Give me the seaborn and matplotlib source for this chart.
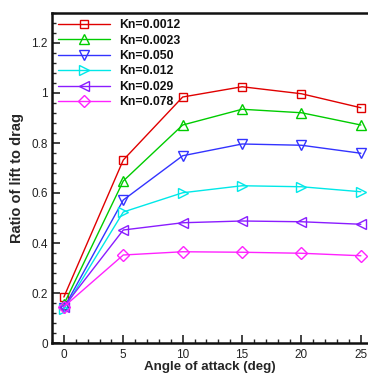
import matplotlib
matplotlib.use("Agg")
import matplotlib.pyplot as plt
import seaborn as sns
import pandas as pd
from matplotlib.ticker import MultipleLocator, FuncFormatter
from matplotlib.lines import Line2D

angles = [0, 5, 10, 15, 20, 25]
labels = ["Kn=0.0012", "Kn=0.0023", "Kn=0.050", "Kn=0.012", "Kn=0.029", "Kn=0.078"]
kn_0012 = [0.184, 0.732, 0.984, 1.025, 0.997, 0.941]
kn_0023 = [0.155, 0.648, 0.872, 0.935, 0.921, 0.872]
kn_050 = [0.140, 0.572, 0.749, 0.796, 0.791, 0.759]
kn_012 = [0.135, 0.524, 0.601, 0.629, 0.625, 0.605]
kn_029 = [0.145, 0.452, 0.481, 0.488, 0.485, 0.475]
kn_078 = [0.145, 0.352, 0.365, 0.363, 0.359, 0.349]
series = [kn_0012, kn_0023, kn_050, kn_012, kn_029, kn_078]

colors = ["#e00000", "#00cc00", "#3333ff", "#00e8e8", "#8a1cff", "#ff22ff"]
markers = ["s", "^", "v", ">", "<", "D"]
msizes = [6.3, 7.2, 7.2, 7.2, 7.2, 6.5]

rows = []
for lab, vals in zip(labels, series):
    for a, v in zip(angles, vals):
        rows.append({"angle": a, "ratio": v, "Kn": lab})
df = pd.DataFrame(rows)

sns.set_style("white")
plt.rcParams["font.family"] = ["Liberation Sans", "DejaVu Sans"]

fig = plt.figure(figsize=(3.68, 3.75), dpi=100)
ax = fig.add_axes([52 / 368, 32 / 375, 316 / 368, 330 / 375])

handles = []
for lab, c, m, ms in zip(labels, colors, markers, msizes):
    sub = df[df["Kn"] == lab]
    sns.lineplot(data=sub, x="angle", y="ratio", ax=ax, color=c, marker=m,
                 markersize=ms, markerfacecolor="none", markeredgecolor=c,
                 markeredgewidth=1.0, linewidth=1.0, legend=False)
    handles.append(Line2D([0], [0], color=c, marker=m, markersize=ms,
                          markerfacecolor="none", markeredgecolor=c,
                          markeredgewidth=1.0, linewidth=1.0))

ax.set_xlim(-1, 25.6)
ax.set_ylim(0, 1.32)
ax.xaxis.set_major_locator(MultipleLocator(5))
ax.xaxis.set_minor_locator(MultipleLocator(1))
ax.yaxis.set_major_locator(MultipleLocator(0.2))
ax.yaxis.set_minor_locator(MultipleLocator(0.04))
ax.yaxis.set_major_formatter(FuncFormatter(lambda v, p: f"{v:g}"))

ax.tick_params(which="major", direction="in", length=6, width=1.2,
               labelsize=8.5, colors="#222222", bottom=True, left=True, top=False, right=False)
ax.tick_params(which="minor", direction="in", length=3, width=1.0,
               bottom=True, left=True, top=False, right=False)
ax.tick_params(axis="x", pad=4)
ax.tick_params(axis="y", pad=3)

for s in ["left", "bottom", "top"]:
    ax.spines[s].set_linewidth(1.8)
    ax.spines[s].set_color("#111111")
ax.spines["right"].set_visible(False)

ax.set_xlabel("Angle of attack (deg)", fontsize=9.6, fontweight="bold", labelpad=0)
ax.set_ylabel("Ratio of lift to drag", fontsize=10.5, fontweight="bold", labelpad=5)

leg = ax.legend(handles, labels, loc="upper left", bbox_to_anchor=(0.0, 1.0),
                frameon=False, prop={"weight": "bold", "size": 8.8},
                handlelength=4.26, handletextpad=0.74, labelspacing=0.28,
                borderaxespad=0.25, borderpad=0.25)
for t in leg.get_texts():
    t.set_color("#111111")

fig.savefig("out.png", dpi=100)
